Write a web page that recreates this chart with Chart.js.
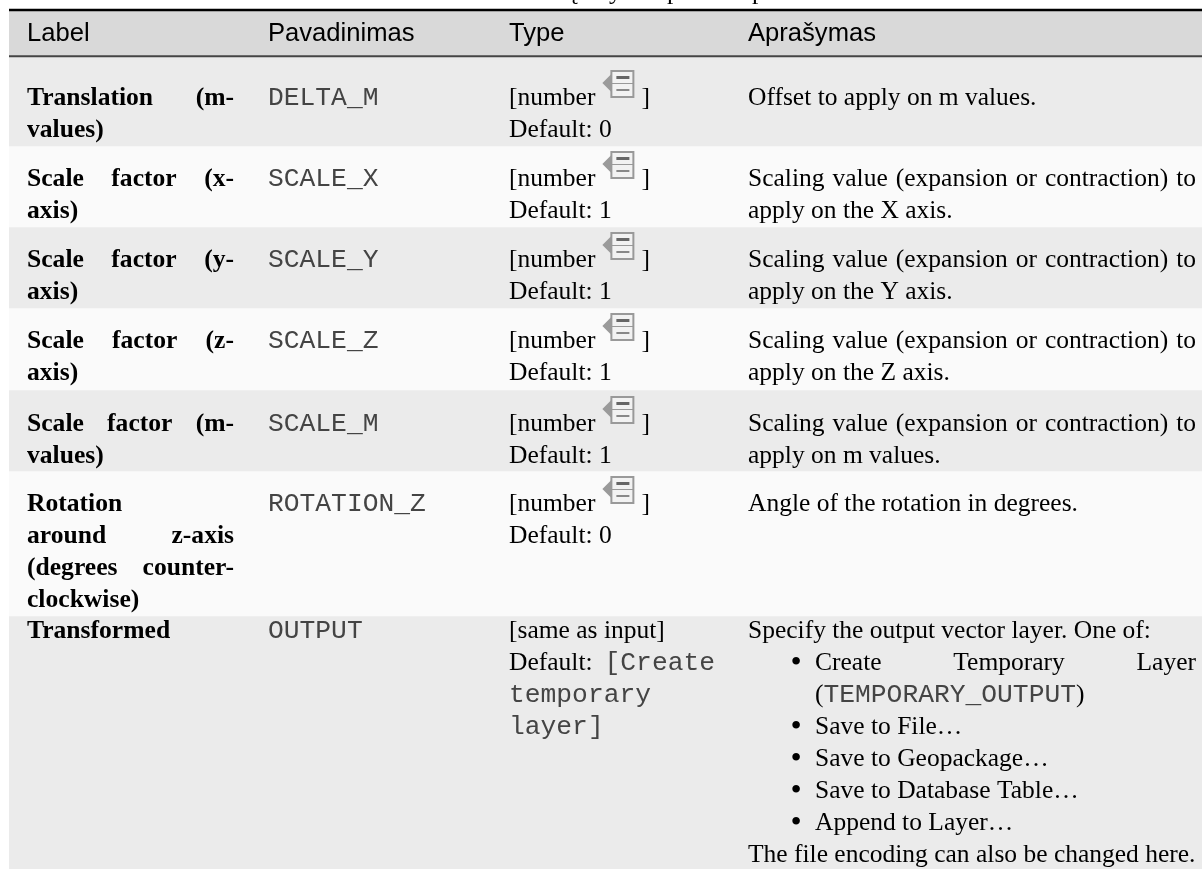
<!DOCTYPE html>
<html>
<head>
<meta charset="utf-8">
<title>Parameters table</title>
<script src="https://cdn.jsdelivr.net/npm/chart.js@4"></script>
<style>
html, body { margin: 0; padding: 0; background: #fff; }
canvas { display: block; }
</style>
</head>
<body>
<canvas id="tbl" width="1203" height="869"></canvas>
<script>
// edges of the table bands
var topRule = [9, 11];
var headRule = [55, 57];
var headBand = [11, 55];
var rowEdges = [57, 146, 227, 308, 390, 471, 616, 869];
var rowFill = ['#ebebeb', '#fafafa', '#ebebeb', '#fafafa', '#ebebeb', '#fafafa', '#ebebeb'];
var firstBase = [105, 186, 267, 348, 431, 511, 638];

var headers = ['Label', 'Pavadinimas', 'Type', 'Aprašymas'];
var labels = [
	['Translation (m-', 'values)'],
	['Scale factor (x-', 'axis)'],
	['Scale factor (y-', 'axis)'],
	['Scale factor (z-', 'axis)'],
	['Scale factor (m-', 'values)'],
	['Rotation', 'around z-axis', '(degrees counter-', 'clockwise)'],
	['Transformed']
];
var names = ['DELTA_M', 'SCALE_X', 'SCALE_Y', 'SCALE_Z', 'SCALE_M', 'ROTATION_Z', 'OUTPUT'];
var types = [
	['[number', 'Default: 0'],
	['[number', 'Default: 1'],
	['[number', 'Default: 1'],
	['[number', 'Default: 1'],
	['[number', 'Default: 1'],
	['[number', 'Default: 0'],
	['[same as input]', 'Default: `[Create`', '`temporary`', '`layer]`']
];
var descriptions = [
	['Offset to apply on m values.'],
	['Scaling value (expansion or contraction) to', 'apply on the X axis.'],
	['Scaling value (expansion or contraction) to', 'apply on the Y axis.'],
	['Scaling value (expansion or contraction) to', 'apply on the Z axis.'],
	['Scaling value (expansion or contraction) to', 'apply on m values.'],
	['Angle of the rotation in degrees.'],
	['Specify the output vector layer. One of:']
];
var bullets = [
	['Create Temporary Layer', '(`TEMPORARY_OUTPUT`)'],
	['Save to File…'],
	['Save to Geopackage…'],
	['Save to Database Table…'],
	['Append to Layer…']
];
var descEnd = 'The file encoding can also be changed here.';
// bits of the cut off caption above the table
var captionTips = [['ą', 566], ['y', 609], ['p', 667], ['p', 752]];

var colX = [27, 268, 509, 748];
var labelRight = 234, typeRight = 715, descRight = 1196, bulletX = 796, bulletText = 815;
var lineH = 32;
var SERIF = '25.5px "Liberation Serif"';
var BOLD = 'bold 25.6px "Liberation Serif"';
var SANS = '25.6px "Liberation Sans"';
var MONO = '26.3px "Liberation Mono"';
var INK = '#000';

// backticks mark the monospace parts of a line
function drawRuns(ctx, text, x, y, font) {
	var parts = text.split('`');
	for (var i = 0; i < parts.length; i++) {
		ctx.font = i % 2 ? MONO : font;
		ctx.fillStyle = i % 2 ? '#444' : INK;
		ctx.fillText(parts[i], x, y);
		x += ctx.measureText(parts[i]).width;
	}
	return x;
}

function drawJustified(ctx, text, x, y, right, font) {
	ctx.font = font;
	ctx.fillStyle = INK;
	var words = text.split(' ');
	var sum = 0;
	for (var i = 0; i < words.length; i++) sum += ctx.measureText(words[i]).width;
	var gap = words.length > 1 ? (right - x - sum) / (words.length - 1) : 0;
	for (var j = 0; j < words.length; j++) {
		ctx.fillText(words[j], x, y);
		x += ctx.measureText(words[j]).width + gap;
	}
}

function drawIcon(ctx, x, y) {
	// little "advanced parameter" page with its arrow
	ctx.fillStyle = '#9a9a9a';
	ctx.beginPath();
	ctx.moveTo(x, y + 13);
	ctx.lineTo(x + 9, y + 4);
	ctx.lineTo(x + 9, y + 22);
	ctx.closePath();
	ctx.fill();
	ctx.fillStyle = '#f2f2f2';
	ctx.fillRect(x + 9, y + 1, 22, 26);
	ctx.strokeStyle = '#999';
	ctx.lineWidth = 2;
	ctx.strokeRect(x + 9, y + 1, 22, 26);
	ctx.fillStyle = '#999';
	ctx.fillRect(x + 9, y + 13, 22, 1);
	ctx.fillStyle = '#666';
	ctx.fillRect(x + 14, y + 6, 13, 3);
	ctx.fillStyle = '#888';
	ctx.fillRect(x + 14, y + 19, 13, 2);
}

var tablePlugin = {
	id: 'tablePlugin',
	afterDatasetsDraw: function(chart) {
		var ctx = chart.ctx;
		var ys = chart.scales.y;
		var i, j, y;
		ctx.save();
		ctx.textBaseline = 'alphabetic';
		ctx.textAlign = 'left';

		ctx.font = SERIF;
		ctx.fillStyle = INK;
		for (i = 0; i < captionTips.length; i++) {
			ctx.fillText(captionTips[i][0], captionTips[i][1], ys.getPixelForValue(-1));
		}

		for (i = 0; i < headers.length; i++) {
			ctx.font = SANS;
			ctx.fillStyle = INK;
			ctx.fillText(headers[i], colX[i], ys.getPixelForValue(41));
		}

		for (i = 0; i < names.length; i++) {
			var base = firstBase[i];
			for (j = 0; j < labels[i].length; j++) {
				y = ys.getPixelForValue(base + j * lineH);
				if (j < labels[i].length - 1 && labels[i][j].indexOf(' ') > 0) {
					drawJustified(ctx, labels[i][j], colX[0], y, labelRight, BOLD);
				} else {
					drawRuns(ctx, labels[i][j], colX[0], y, BOLD);
				}
			}
			drawRuns(ctx, '`' + names[i] + '`', colX[1], ys.getPixelForValue(base), SERIF);
			for (j = 0; j < types[i].length; j++) {
				y = ys.getPixelForValue(base + j * lineH);
				var parts = types[i][j].split('`');
				if (parts.length > 1 && parts[0] != '') {
					// justified line, the mono word sits against the column edge
					drawRuns(ctx, parts[0], colX[2], y, SERIF);
					ctx.font = MONO;
					drawRuns(ctx, '`' + parts[1] + '`', typeRight - ctx.measureText(parts[1]).width, y, SERIF);
					continue;
				}
				var end = drawRuns(ctx, types[i][j], colX[2], y, SERIF);
				if (types[i][j] == '[number') {
					drawIcon(ctx, end + 7, y - 35);
					drawRuns(ctx, ']', end + 46, y, SERIF);
				}
			}
			for (j = 0; j < descriptions[i].length; j++) {
				y = ys.getPixelForValue(base + j * lineH);
				if (descriptions[i].length > 1 && j == 0) {
					drawJustified(ctx, descriptions[i][j], colX[3], y, descRight, SERIF);
				} else {
					drawRuns(ctx, descriptions[i][j], colX[3], y, SERIF);
				}
			}
		}

		// the bullet list of the last row
		var n = firstBase[6] + lineH;
		for (i = 0; i < bullets.length; i++) {
			y = ys.getPixelForValue(n);
			ctx.font = '32px "Liberation Serif"';
			ctx.fillStyle = INK;
			ctx.textAlign = 'center';
			ctx.fillText('•', bulletX, y + 2);
			ctx.textAlign = 'left';
			for (j = 0; j < bullets[i].length; j++) {
				y = ys.getPixelForValue(n);
				if (bullets[i].length > 1 && j == 0) {
					drawJustified(ctx, bullets[i][j], bulletText, y, descRight, SERIF);
				} else {
					drawRuns(ctx, bullets[i][j], bulletText, y, SERIF);
				}
				n += lineH;
			}
		}
		drawRuns(ctx, descEnd, colX[3], ys.getPixelForValue(n), SERIF);
		ctx.restore();
	}
};

var bands = [];
function addBand(range, color) {
	bands.push({
		data: [range],
		backgroundColor: color,
		borderWidth: 0,
		categoryPercentage: 1,
		barPercentage: 1,
		grouped: false
	});
}
addBand(topRule, '#000');
addBand(headBand, '#d9d9d9');
addBand(headRule, '#444');
for (var r = 0; r < rowFill.length; r++) {
	addBand([rowEdges[r], rowEdges[r + 1]], rowFill[r]);
}

var myTable = new Chart(document.getElementById('tbl').getContext('2d'), {
	type: 'bar',
	data: { labels: ['table'], datasets: bands },
	plugins: [tablePlugin],
	options: {
		responsive: false,
		animation: false,
		events: [],
		layout: { padding: { left: 9, right: 1, top: 0, bottom: 0 } },
		plugins: { legend: { display: false }, tooltip: { enabled: false }, title: { display: false } },
		scales: {
			x: { display: false, grid: { display: false } },
			y: { display: false, reverse: true, min: 0, max: 869, grid: { display: false } }
		}
	}
});
</script>
</body>
</html>
